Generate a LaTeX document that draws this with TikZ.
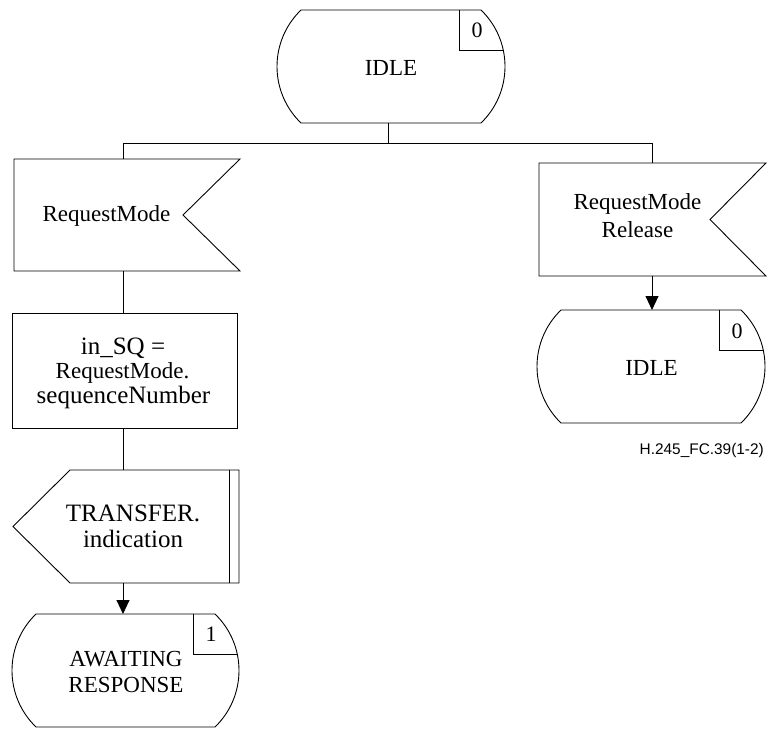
\documentclass[tikz,border=0pt]{standalone}
\usepackage{fontspec}
\setmainfont{Liberation Serif}
\newfontfamily\labelfont{Liberation Sans}
\usetikzlibrary{calc,arrows.meta}
\newcommand\sdlstatepath[1]{($(#1.north west)+(24,0)$) -- ($(#1.north east)+(-24,0)$) .. controls ($(#1.north east)+(8,31)$) and ($(#1.south east)+(8,-31)$) .. ($(#1.south east)+(-24,0)$) -- ($(#1.south west)+(24,0)$) .. controls ($(#1.south west)+(-8,-31)$) and ($(#1.north west)+(-8,31)$) .. cycle}
\tikzset{
  shapebox/.style={rectangle, inner sep=0pt, outer sep=0pt},
  txt/.style={inner sep=0pt, align=center, font=\fontsize{23}{26}\selectfont},
  bigtxt/.style={inner sep=0pt, align=center, font=\fontsize{25}{26}\selectfont},
  numtxt/.style={inner sep=0pt, font=\fontsize{22}{24}\selectfont},
  outline/.style={draw=black, line width=0.9pt},
  flow/.style={draw=black, line width=0.9pt},
  arrowflow/.style={flow, -{Triangle[width=13pt,length=14pt]}},
}
\begin{document}
\begin{tikzpicture}[x=1pt,y=-1pt]
\useasboundingbox (0,0) rectangle (768,729);
% shape nodes
\node[shapebox, minimum width=228pt, minimum height=113pt] (s0) at (391,66.5) {};
\node[shapebox, minimum width=226pt, minimum height=112pt] (in1) at (127,215) {};
\node[shapebox, minimum width=227pt, minimum height=113pt] (in2) at (652.5,219.5) {};
\node[shapebox, minimum width=225pt, minimum height=115pt] (task) at (124.5,370.5) {};
\node[shapebox, minimum width=226pt, minimum height=113pt] (out) at (126,526.5) {};
\node[shapebox, minimum width=227pt, minimum height=113pt] (s1) at (125.5,670.5) {};
\node[shapebox, minimum width=228pt, minimum height=113pt] (s2) at (651,366.5) {};
% outlines: states
\foreach \s in {s0,s1,s2}{
  \draw[outline] \sdlstatepath{\s};
  \begin{scope}
    \clip \sdlstatepath{\s};
    \draw[outline] ($(\s.north east)+(-46,-2)$) -- ($(\s.north east)+(-46,40)$) -- ($(\s.north east)+(40,40)$);
  \end{scope}
}
% inputs
\draw[outline] (in1.north west) -- (in1.north east) -- ($(in1.east)+(-57,0)$) -- (in1.south east) -- (in1.south west) -- cycle;
\draw[outline] (in2.north west) -- (in2.north east) -- ($(in2.east)+(-56,0)$) -- (in2.south east) -- (in2.south west) -- cycle;
% task
\draw[outline] (task.north west) rectangle (task.south east);
% output
\draw[outline] ($(out.north west)+(57,0)$) -- (out.north east) -- (out.south east) -- ($(out.south west)+(57,0)$) -- (out.west) -- cycle;
\draw[outline] ($(out.north east)+(-10,0)$) -- ($(out.south east)+(-10,0)$);
% texts
\node[txt, anchor=base] (s0t) at (391,75) {IDLE};
\node[numtxt, anchor=base] (s0n) at (477,37) {0};
\node[txt, anchor=base] (in1t) at (106.5,221.7) {RequestMode};
\node[bigtxt, anchor=base] (taska) at (123,354) {in\_SQ =};
\node[txt, anchor=base] (taskb) at (122.5,378.5) {RequestMode.};
\node[bigtxt, anchor=base] (taskc) at (123.5,403.5) {sequenceNumber};
\node[bigtxt] (outt) at (133,526.4) {TRANSFER.\\indication};
\node[txt] (s1t) at (126,672) {AWAITING\\RESPONSE};
\node[numtxt, anchor=base] (s1n) at (211,641) {1};
\node[txt, font=\fontsize{23}{28}\selectfont] (in2t) at (637.5,215.2) {RequestMode\\Release};
\node[txt, anchor=base] (s2t) at (651.5,375) {IDLE};
\node[numtxt, anchor=base] (s2n) at (737,338) {0};
\node[inner sep=0pt, anchor=base east, font=\labelfont\fontsize{15.4}{17}\selectfont] (lbl) at (764,454) {H.245\_FC.39(1-2)};
% connectors
\coordinate (j0) at (388,143);
\coordinate (jl) at (123,143);
\coordinate (jr) at (652,143);
\draw[flow] (s0.south -| j0) -- (j0);
\draw[flow] (jl |- in1.north) -- (jl) -- (jr) -- (jr |- in2.north);
\draw[flow] (in1.south -| jl) -- (task.north -| jl);
\draw[flow] (task.south -| jl) -- (out.north -| jl);
\draw[arrowflow] (out.south -| jl) -- (s1.north -| jl);
\draw[arrowflow] (in2.south -| jr) -- (s2.north -| jr);
\end{tikzpicture}
\end{document}
